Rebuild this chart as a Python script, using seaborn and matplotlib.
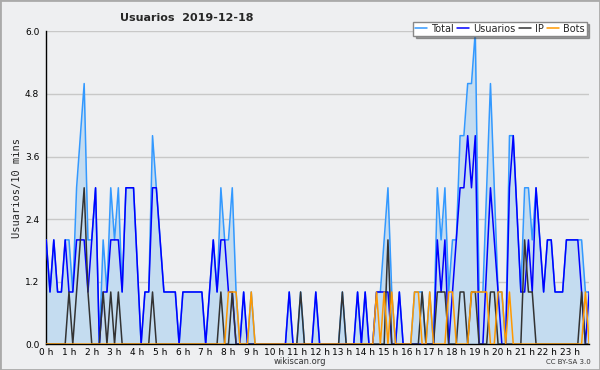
import numpy as np
import pandas as pd
import matplotlib
matplotlib.use("Agg")
import matplotlib.pyplot as plt
import seaborn as sns

# valores cada 10 minutos (144 puntos, 0h00 -> 23h50)
usuarios = [2, 1, 2, 1, 1, 2, 1, 1, 2, 2, 2, 1, 2, 3, 0, 1, 1, 2, 2, 2, 1, 3, 3, 3,
            1.5, 0, 1, 1, 3, 3, 2, 1, 1, 1, 1, 0, 1, 1, 1, 1, 1, 1, 0, 1, 2, 1, 2, 2,
            1, 1, 0, 0, 1, 0, 0, 0, 0, 0, 0, 0, 0, 0, 0, 0, 1, 0, 0, 0, 0, 0, 0, 1,
            0, 0, 0, 0, 0, 0, 0, 0, 0, 0, 1, 0, 1, 0, 0, 1, 1, 1, 1, 0, 0, 1, 0, 0,
            0, 0, 0, 0, 0, 0, 0, 2, 1, 2, 0, 1, 2, 3, 3, 4, 3, 4, 0, 0, 1.5, 3, 2, 1,
            0, 0, 3, 4, 2.5, 1, 1, 2, 1, 3, 2, 1, 2, 2, 1, 1, 1, 2, 2, 2, 2, 1, 0, 1]
ip = [0, 0, 0, 0, 0, 0, 1, 0, 1, 2, 3, 1, 0, 0, 0, 1, 0, 1, 0, 1, 0, 0, 0, 0,
      0, 0, 0, 0, 1, 0, 0, 0, 0, 0, 0, 0, 0, 0, 0, 0, 0, 0, 0, 0, 0, 0, 1, 0,
      0, 1, 0, 0, 0, 0, 0, 0, 0, 0, 0, 0, 0, 0, 0, 0, 0, 0, 0, 1, 0, 0, 0, 0,
      0, 0, 0, 0, 0, 0, 1, 0, 0, 0, 0, 0, 0, 0, 0, 0, 0, 0, 2, 0, 0, 0, 0, 0,
      0, 0, 0, 1, 0, 0, 0, 1, 1, 1, 0, 0, 0, 1, 1, 0, 1, 1, 0, 0, 0, 1, 1, 0,
      0, 0, 0, 0, 0, 0, 2, 1, 1, 0, 0, 0, 0, 0, 0, 0, 0, 0, 0, 0, 0, 1, 0, 0]
bots = [0, 0, 0, 0, 0, 0, 0, 0, 0, 0, 0, 0, 0, 0, 0, 0, 0, 0, 0, 0, 0, 0, 0, 0,
        0, 0, 0, 0, 0, 0, 0, 0, 0, 0, 0, 0, 0, 0, 0, 0, 0, 0, 0, 0, 0, 0, 0, 0,
        1, 1, 1, 0, 0, 0, 1, 0, 0, 0, 0, 0, 0, 0, 0, 0, 0, 0, 0, 0, 0, 0, 0, 0,
        0, 0, 0, 0, 0, 0, 0, 0, 0, 0, 0, 0, 0, 0, 0, 1, 0, 1, 0, 1, 0, 0, 0, 0,
        0, 1, 1, 0, 0, 1, 0, 0, 0, 0, 1, 1, 0, 0, 0, 0, 1, 1, 1, 1, 1, 0, 0, 1,
        1, 0, 1, 0, 0, 0, 0, 0, 0, 0, 0, 0, 0, 0, 0, 0, 0, 0, 0, 0, 0, 0, 1, 0]
total = [2, 1, 2, 1, 1, 2, 2, 1, 3, 4, 5, 2, 2, 3, 0, 2, 1, 3, 2, 3, 1, 3, 3, 3,
         1.5, 0, 1, 1, 4, 3, 2, 1, 1, 1, 1, 0, 1, 1, 1, 1, 1, 1, 0, 1, 2, 1, 3, 2,
         2, 3, 1, 0, 1, 0, 1, 0, 0, 0, 0, 0, 0, 0, 0, 0, 1, 0, 0, 1, 0, 0, 0, 1,
         0, 0, 0, 0, 0, 0, 1, 0, 0, 0, 1, 0, 1, 0, 0, 1, 1, 2, 3, 1, 0, 1, 0, 0,
         0, 1, 1, 1, 0, 1, 0, 3, 2, 3, 1, 2, 2, 4, 4, 5, 5, 6, 1, 1, 3, 5, 3, 1,
         1, 0, 4, 4, 2.5, 1, 3, 3, 2, 3, 2, 1, 2, 2, 1, 1, 1, 2, 2, 2, 2, 2, 1, 1]
horas = [f"{h} h" for h in range(24)]

df = pd.DataFrame({"paso": np.arange(len(total)), "Total": total,
                   "Usuarios": usuarios, "IP": ip, "Bots": bots})

bg = "#eeeff1"
colores = {"Total": "#3399ff", "Usuarios": "#0000ff", "IP": "#333333", "Bots": "#ff9900"}

sns.set_style("white")
plt.rcParams["font.family"] = ["DejaVu Sans"]

fig = plt.figure(figsize=(6, 3.7), dpi=100, facecolor=bg)
ax = fig.add_axes([0.077, 0.070, 0.905, 0.845], facecolor=bg)

ax.fill_between(df["paso"], df["Total"], color="#c4dcf0", lw=0, zorder=1)
for serie in ["Total", "Usuarios", "IP", "Bots"]:
    sns.lineplot(data=df, x="paso", y=serie, ax=ax, color=colores[serie],
                 lw=1.1, label=serie, zorder=3)

ax.set_xlim(0, len(total) - 1)
ax.set_ylim(0, 6)
ax.set_yticks(np.arange(0, 6.01, 1.2))
ax.set_yticklabels([f"{v:.1f}" for v in np.arange(0, 6.01, 1.2)])
ax.set_yticks(np.arange(0, 6.01, 0.3), minor=True)
ax.set_xticks(np.arange(0, 144, 6))
ax.set_xticklabels(horas)
ax.set_xticks(np.arange(0, 144, 1), minor=True)
ax.grid(axis="y", color="#c8c8c8", lw=1)
ax.set_axisbelow(True)

for s in ["top", "right"]:
    ax.spines[s].set_visible(False)
for s in ["left", "bottom"]:
    ax.spines[s].set_color("black")
    ax.spines[s].set_linewidth(1)
ax.tick_params(axis="y", which="major", length=4, width=1, labelsize=6.5,
               colors="black", pad=1)
ax.tick_params(axis="x", which="major", length=3, width=1, labelsize=6.5,
               colors="black", pad=0)
ax.tick_params(axis="both", which="minor", length=3, width=1, colors="black")

ax.set_xlabel("")
ax.set_ylabel("Usuarios/10 mins", fontsize=7.5, family="DejaVu Sans Mono", labelpad=2)

fig.text(0.2, 0.952, "Usuarios  2019-12-18", fontsize=8, weight="bold", ha="left", va="center")
fig.text(0.5, 0.022, "wikiscan.org", fontsize=6, ha="center", va="center", color="#333333")
fig.text(0.985, 0.022, "CC BY-SA 3.0", fontsize=5, ha="right", va="center", color="#333333")

leg = ax.legend(loc="upper right", bbox_to_anchor=(1.004, 1.047), ncol=4, fontsize=7,
                frameon=True, fancybox=False, shadow=True, handlelength=1.2,
                handletextpad=0.4, columnspacing=0.4, borderpad=0.2)
leg.get_frame().set_edgecolor("#888888")
leg.get_frame().set_facecolor("white")

# borde de la imagen
fig.patches.append(plt.Rectangle((0, 0), 1, 1, transform=fig.transFigure,
                                 fill=False, ec="#aaaaaa", lw=2))

fig.savefig("out.png", dpi=100, facecolor=bg)
